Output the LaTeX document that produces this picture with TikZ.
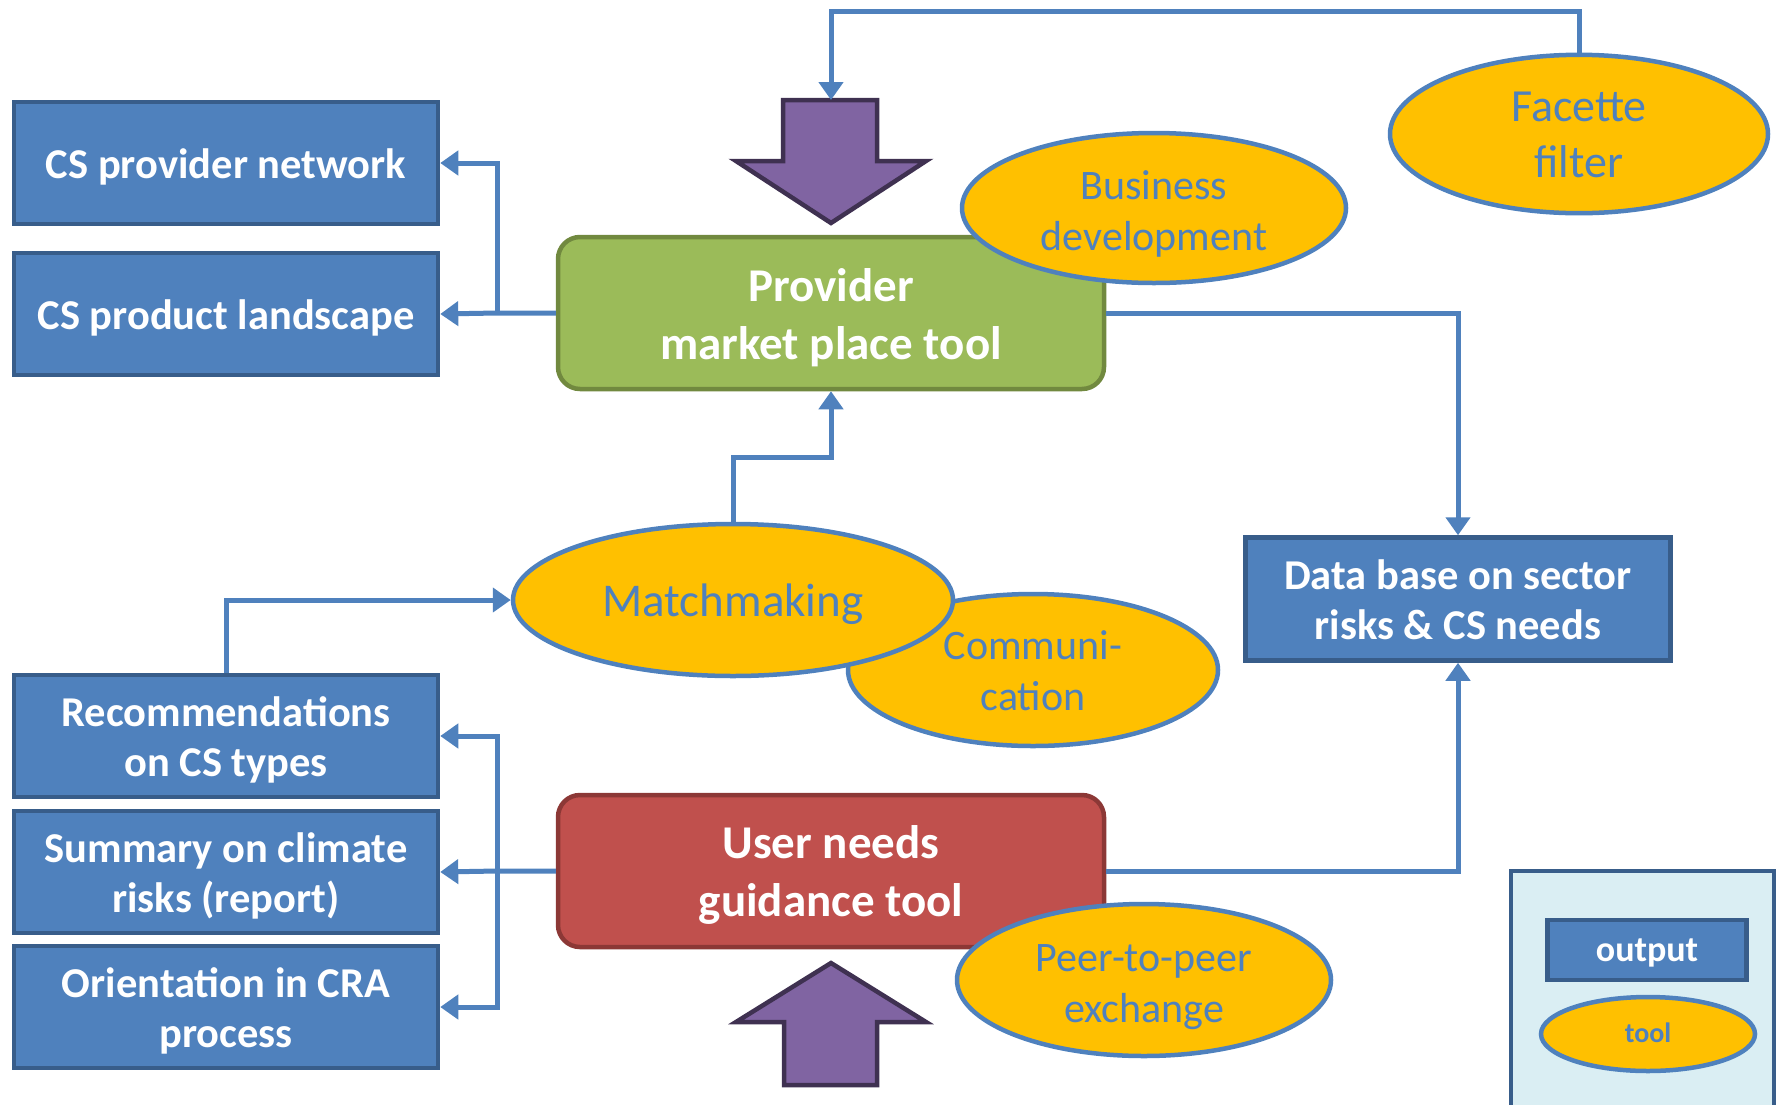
\documentclass[tikz,border=0pt]{standalone}
\usepackage{fontspec}
\setmainfont{Carlito}
\usetikzlibrary{shapes.geometric,arrows.meta}
\definecolor{boxblue}{HTML}{4F81BD}
\definecolor{boxedge}{HTML}{385D8A}
\definecolor{gfill}{HTML}{9BBB59}
\definecolor{gedge}{HTML}{71893F}
\definecolor{rfill}{HTML}{C0504D}
\definecolor{redge}{HTML}{8C3836}
\definecolor{pfill}{HTML}{8064A2}
\definecolor{pedge}{HTML}{3F3151}
\definecolor{gold}{HTML}{FFC000}
\definecolor{legfill}{HTML}{DAEEF3}
\newcommand{\lowtxt}[2][5pt]{\raisebox{-#1}[\height][\depth]{\begin{tabular}{@{}c@{}}#2\end{tabular}}}
\begin{document}
\begin{tikzpicture}[x=1pt,y=-1pt,
 outbox/.style={rectangle, draw=boxedge, fill=boxblue, line width=4.5pt, minimum width=424pt, minimum height=122pt, text=white, font=\fontsize{42.5}{50}\selectfont\bfseries, inner sep=0pt},
 toolbox/.style={rectangle, rounded corners=22pt, line width=4.5pt, minimum width=546pt, minimum height=152pt, text=white, font=\fontsize{47}{58}\selectfont\bfseries, inner sep=0pt},
 tool/.style={ellipse, draw=boxblue, fill=gold, line width=4.5pt, text=boxblue, font=\fontsize{42}{51}\selectfont, inner sep=0pt},
 conn/.style={draw=boxblue, line width=5pt},
 arr/.style={conn, -{Triangle[length=18pt,width=24pt]}},
 bigarrow/.style={fill=pfill, draw=pedge, line width=4.5pt, line join=miter}
]
\useasboundingbox (0,0) rectangle (1781,1104);

% output boxes
\node[outbox] (cspn) at (226,163) {\lowtxt{CS provider network}};
\node[outbox] (cspl) at (226,314) {\lowtxt{CS product landscape}};
\node[outbox] (rec) at (226,736) {\lowtxt{Recommendations\\on CS types}};
\node[outbox] (sum) at (226,872) {\lowtxt{Summary on climate\\risks (report)}};
\node[outbox] (ori) at (226,1007) {\lowtxt{Orientation in CRA\\process}};
\node[outbox, minimum width=425pt, minimum height=123pt] (db) at (1458,599) {\lowtxt{Data base on sector\\risks \& CS needs}};

% tool boxes
\node[toolbox, fill=gfill, draw=gedge] (green) at (831,313) {\lowtxt[6pt]{Provider\\market place tool}};
\node[toolbox, fill=rfill, draw=redge] (user) at (831,871) {\lowtxt{User needs\\guidance tool}};

% purple arrows
\draw[bigarrow] (783,100) -- (877,100) -- (877,161) -- (926,161) -- (831,223) -- (736,161) -- (783,161) -- cycle;
\coordinate (dtop) at (831,100);
\draw[bigarrow] (784,1085) -- (877,1085) -- (877,1022) -- (926,1022) -- (831,963) -- (736,1022) -- (784,1022) -- cycle;

% ellipses
\node[tool, minimum width=378pt, minimum height=150pt, font=\fontsize{46}{56}\selectfont] (facette) at (1579,134) {\lowtxt[4pt]{Facette\\filter}};
\node[tool, minimum width=384pt, minimum height=150pt] (busdev) at (1154,208) {\lowtxt[7pt]{Business\\development}};
\node[tool, minimum width=370pt, minimum height=152pt] (comm) at (1033,670) {\lowtxt{Communi-\\cation}};
\node[tool, minimum width=440pt, minimum height=152pt, font=\fontsize{47}{56}\selectfont] (match) at (733,600) {\lowtxt[5pt]{Matchmaking}};
\node[tool, minimum width=374pt, minimum height=152pt] (peer) at (1144,980) {\lowtxt[6.5pt]{Peer-to-peer\\exchange}};

% connectors
\coordinate (j1) at (497,313);
\draw[arr] (green.west) -- (j1) -- (cspl.east);
\draw[arr] (j1) |- (cspn.east);
\draw[arr] (facette.north) |- (831,11) -- (dtop);
\draw[arr] (match.north) |- (831,457) -- (green.south);
\draw[arr] (rec.north) |- (match.west);
\draw[arr] (green.east) -| (db.north);
\draw[arr] (user.east) -| (db.south);
\coordinate (j2) at (497,871);
\draw[arr] (user.west) -- (j2) -- (sum.east);
\draw[arr] (j2) |- (rec.east);
\draw[arr] (j2) |- (ori.east);

% legend
\draw[fill=legfill, draw=boxedge, line width=4pt] (1511,871) rectangle (1774,1120);
\node[outbox, minimum width=199pt, minimum height=60pt, font=\fontsize{36}{42}\selectfont\bfseries] (legout) at (1647,950) {\lowtxt[3pt]{output}};
\node[tool, minimum width=214pt, minimum height=74pt, font=\fontsize{28}{34}\selectfont\bfseries] (legtool) at (1648,1034) {\lowtxt[2pt]{tool}};
\end{tikzpicture}
\end{document}
